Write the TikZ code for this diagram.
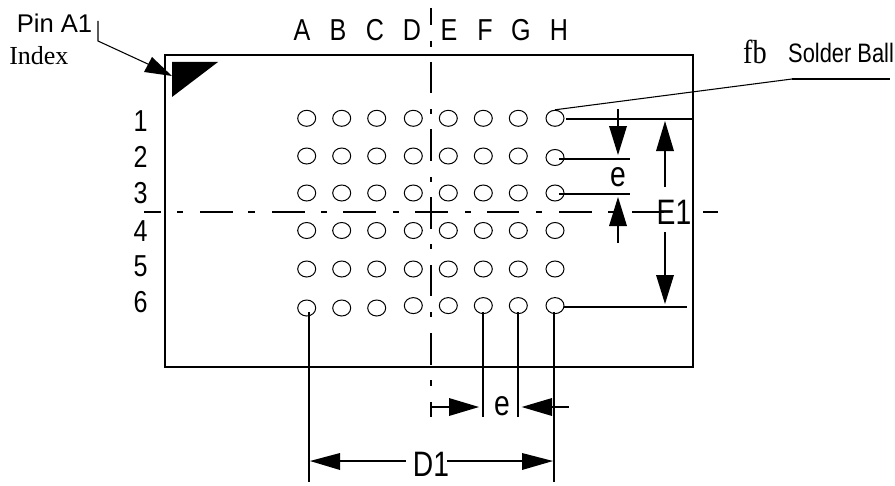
\documentclass[tikz,border=0pt]{standalone}
\usepackage{fontspec}
\setmainfont{Liberation Sans}
\newfontfamily\serifx{Liberation Serif}
\usetikzlibrary{shapes.geometric}
\tikzset{
  x=0.75pt,y=-0.75pt,
  thick line/.style={line width=1.5pt},
  ball/.style={draw,ellipse,line width=.75pt,minimum width=13.5pt,minimum height=12pt,inner sep=0pt},
  dim/.style={line width=1.3pt},
  fin/.style={line width=.8pt},
  lab/.style={inner sep=0pt,font=\fontsize{22.7pt}{24pt}\selectfont,xscale=.83},
  big/.style={inner sep=0pt,font=\fontsize{26.5pt}{28pt}\selectfont,xscale=.8},
}
\begin{document}
\begin{tikzpicture}
\useasboundingbox (0,0) rectangle (895,485);
\fill[white] (0,0) rectangle (895,485);
% package
\draw[thick line] (165,55) rectangle (693,366.7);
% index triangle
\fill (172,62) -- (218,62) -- (172,97) -- cycle;
% center lines
\foreach \a/\b in {8/25,41/47,62/93,109/114,129/161,177/182,197/229,244/249,265/296,312/317,333/365,380/386,402/417}
  \draw[dim] (431,\a) -- (431,\b);
\foreach \a/\b in {144/161,177/183,200/233,248/255,272/305,321/327,343/376,393/399,415/448,465/471,487/519,536/542,559/592,608/614,632/664,703/718}
  \draw[dim] (\a,211.7) -- (\b,211.7);
% balls
\foreach \x [count=\i] in {306.7,341.7,376.7,413.3,448.3,483.3,518.3,555}{
  \foreach \y/\j in {118.3/1,193/3,230.5/4,269/5}{
    \node[ball] (b\i-\j) at (\x,\y) {};
  }
}
\foreach \x/\y [count=\i] in {306.7/156,341.7/156,376.7/156,413.3/156,448.3/156,483.3/156,518.3/156,555/157.5}
  \node[ball] (b\i-2) at (\x,\y) {};
\foreach \x/\y [count=\i] in {306.7/308,341.7/308,376.7/308,413.3/305.6,448.3/305.6,483.3/305.6,518.3/305.6,555/305.6}
  \node[ball] (b\i-6) at (\x,\y) {};
% column labels
\foreach \t/\x in {A/302,B/338,C/375,D/412,E/449,F/485,G/521,H/559}
  \node[lab] at (\x,30.5) {\t};
% row labels
\foreach \t/\y in {1/121,2/157,3/193,4/231,5/266,6/302}
  \node[lab] at (140.5,\y) {\t};
% labels
\node[inner sep=0pt,anchor=west,font=\fontsize{19.2pt}{20pt}\selectfont] (pin) at (16.5,23) {Pin A1};
\node[inner sep=0pt,anchor=west,font=\fontsize{19.5pt}{22pt}\serifx] (idx) at (9,56) {Index};
\node[inner sep=0pt,font=\fontsize{25pt}{26pt}\serifx,xscale=.85] (fb) at (755,51.5) {fb};
\node[inner sep=0pt,anchor=west,font=\fontsize{20pt}{22pt}\selectfont,xscale=.82] (sb) at (788,53) {Solder Ball};
% pin leader
\coordinate (p1) at (98,21); \coordinate (p2) at (98,41); \coordinate (p3) at (150,65);
\draw[fin] (p1) -- (p2) -- (p3);
\fill (172,76) -- (144,72) -- (152,57) -- cycle;
% solder ball leader
\coordinate (s1) at (792,79); \coordinate (s2) at (890,79);
\draw[fin] (b8-1.north) -- (s1);
\draw[dim] (s1) -- (s2);
% e vertical dims
\draw[dim] (566,119) -- (693,119);
\draw[dim] (559,158.7) -- (630,158.7);
\draw[dim] (559,193.7) -- (630,193.7);
\draw[dim] (618,109) -- (618,130);
\fill (618,155) -- (609,126) -- (627,126) -- cycle;
\draw[dim] (618,243) -- (618,225);
\fill (618,197) -- (609,226) -- (627,226) -- cycle;
\node[big] at (618,177.5) {e};
% E1
\draw[dim] (665,187) -- (665,150);
\fill (665,121) -- (656,151) -- (674,151) -- cycle;
\draw[dim] (665,232) -- (665,277);
\fill (665,304) -- (656,275) -- (674,275) -- cycle;
\node[big] at (674,212.5) {E1};
\draw[dim] (564,306.7) -- (687,306.7);
% vertical extension lines
\draw[dim] (309,312) -- (309,482);
\draw[dim] (483.3,312) -- (483.3,417);
\draw[dim] (518,312) -- (518,417);
\draw[dim] (554,312) -- (554,482);
% e horizontal
\draw[dim] (431,407) -- (452,407);
\fill (479,407) -- (449,398) -- (449,416) -- cycle;
\fill (521.7,407) -- (552,398) -- (552,416) -- cycle;
\draw[dim] (550,407) -- (569,407);
\node[big] at (502,406.5) {e};
% D1
\fill (310,461) -- (340,453) -- (340,470) -- cycle;
\draw[dim] (338,461) -- (406,461);
\draw[dim] (447,461) -- (525,461);
\fill (553,461) -- (522,453) -- (522,470) -- cycle;
\node[big] at (431,464) {D1};
\end{tikzpicture}
\end{document}
